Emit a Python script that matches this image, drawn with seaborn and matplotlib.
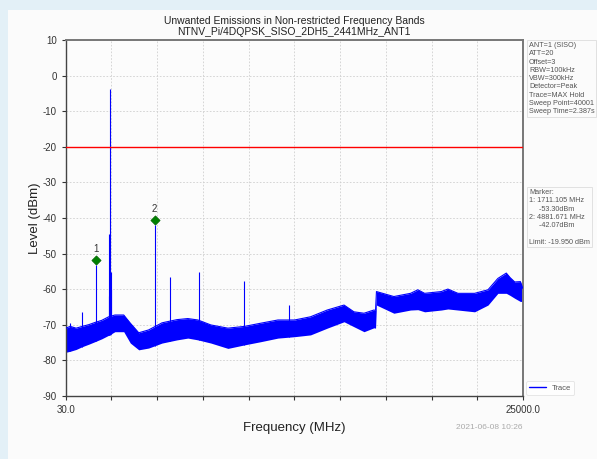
import numpy as np
import pandas as pd
import matplotlib
matplotlib.use("Agg")
import matplotlib.pyplot as plt
import matplotlib.transforms as mtransforms
from matplotlib.patches import Rectangle
import seaborn as sns

# noise floor envelope (MHz, dBm)
floor_freq = [30, 280, 600, 940, 1300, 1630, 2000, 2380, 2720, 3200, 3560, 4020,
              4560, 5290, 6110, 6700, 7250, 7960, 8890, 9800, 10690, 11620, 12530,
              13400, 14310, 15230, 15770, 16320, 16860, 16950, 17000, 17950, 18860,
              19260, 19630, 20540, 20900, 21450, 22360, 23090, 23630, 24090, 24300,
              24550, 24860, 25000]
floor_top = [-71.0, -70.5, -71.0, -70.5, -70.0, -69.4, -68.8, -67.8, -67.3, -67.3,
             -69.6, -72.3, -71.5, -69.5, -68.6, -68.3, -68.7, -70.1, -71.0, -70.5,
             -69.6, -68.7, -68.7, -67.8, -65.9, -64.5, -66.4, -66.8, -65.9, -66.0,
             -60.7, -62.1, -61.2, -60.2, -61.2, -60.7, -60.0, -61.2, -61.2, -60.2,
             -57.0, -55.5, -56.8, -58.0, -57.9, -59.9]
floor_bottom = [-77.8, -77.5, -77.0, -76.2, -75.5, -74.8, -74.0, -73.0, -72.0, -72.0,
                -75.2, -77.1, -76.6, -75.2, -74.3, -73.8, -74.3, -75.2, -76.7, -75.7,
                -74.8, -73.8, -73.4, -72.9, -71.0, -69.2, -70.6, -72.0, -70.9, -71.0,
                -64.5, -66.8, -65.9, -65.8, -66.4, -65.9, -65.6, -65.9, -66.4, -64.5,
                -61.2, -61.2, -61.8, -62.6, -63.5, -63.4]

# discrete spurs / carrier
spur_freq = [280, 940, 1711.105, 2380, 2400, 2441, 2480, 2500, 4881.671, 5740, 7310, 9750, 12210]
spur_level = [-69.5, -66.5, -53.30, -62.0, -44.5, -3.8, -55.1, -60.0, -42.07, -56.5, -55.1, -57.6, -64.5]

marker_freq = [1711.105, 4881.671]
marker_level = [-53.30, -42.07]
marker_names = ["1", "2"]

limit = -19.950
x_ticks = list(np.linspace(30, 25000, 11))
x_tick_labels = ["30.0"] + [""] * 9 + ["25000.0"]
y_ticks = list(range(-90, 11, 10))

settings_text = ("ANT=1 (SISO)\nATT=20\nOffset=3\nRBW=100kHz\nVBW=300kHz\n"
                 "Detector=Peak\nTrace=MAX Hold\nSweep Point=40001\nSweep Time=2.387s")
marker_text = ("Marker:\n1: 1711.105 MHz\n     -53.30dBm\n2: 4881.671 MHz\n     -42.07dBm\n\n"
               "Limit: -19.950 dBm")

sns.set_style("ticks")
plt.rcParams["font.family"] = ["Liberation Sans", "DejaVu Sans"]
plt.rcParams["axes.unicode_minus"] = False

fig = plt.figure(figsize=(5.97, 4.59), dpi=100)
fig.patch.set_facecolor("#e3f0f7")
fig.patches.append(Rectangle((8 / 597, 0), 1, 1 - 10 / 459, transform=fig.transFigure,
                             facecolor="#fbfbfb", edgecolor="none", zorder=-10))
ax = fig.add_axes([0.110, 0.138, 0.766, 0.774])
ax.set_facecolor("#fcfcfc")

df = pd.DataFrame({
    "freq": floor_freq + floor_freq,
    "level": floor_top + floor_bottom,
})
sns.lineplot(data=df, x="freq", y="level", estimator="max", errorbar=("pi", 100),
             color="blue", linewidth=0.8, err_kws={"alpha": 1, "linewidth": 0},
             label="Trace", ax=ax, zorder=3)

base = np.interp(spur_freq, floor_freq, floor_bottom)
ax.vlines(spur_freq, base, spur_level, color="blue", linewidth=0.8, zorder=3)

ax.axhline(limit, color="red", linewidth=1.0, zorder=4)

off = mtransforms.offset_copy(ax.transData, fig=fig, x=0, y=4, units="points")
sns.scatterplot(x=marker_freq, y=marker_level, marker="D", color="green", s=22,
                edgecolor="darkgreen", linewidth=0.5, ax=ax, zorder=5, transform=off)
for f, lv, name in zip(marker_freq, marker_level, marker_names):
    ax.annotate(name, (f, lv), xytext=(0, 8), textcoords="offset points",
                ha="center", va="bottom", fontsize=7, color="#333333")

ax.set_xlim(30, 25000)
ax.set_ylim(-90, 10)
ax.set_xticks(x_ticks)
ax.set_xticklabels(x_tick_labels)
ax.set_yticks(y_ticks)
ax.tick_params(axis="both", labelsize=7, colors="#333333", length=3, width=0.8)
ax.grid(True, linestyle=(0, (2, 2)), color="#cfcfcf", linewidth=0.6)
for name, s in ax.spines.items():
    s.set_color("#444444" if name in ("left", "bottom") else "#777777")
    s.set_linewidth(1.0 if name in ("left", "bottom") else 1.4)

ax.set_xlabel("Frequency (MHz)", fontsize=9.5, color="#222222", labelpad=5)
ax.set_ylabel("Level (dBm)", fontsize=9.5, color="#222222", labelpad=1)
ax.set_title("Unwanted Emissions in Non-restricted Frequency Bands\n"
             "NTNV_Pi/4DQPSK_SISO_2DH5_2441MHz_ANT1", fontsize=7.5, color="#222222",
             pad=4, linespacing=1.1)

box = dict(boxstyle="square,pad=0.25", facecolor="#fbfbfb", edgecolor="#dddddd", linewidth=0.6)
fig.text(0.886, 0.908, settings_text, fontsize=5.2, color="#555555", va="top", ha="left",
         linespacing=1.25, bbox=box)
fig.text(0.886, 0.588, marker_text, fontsize=5.2, color="#555555", va="top", ha="left",
         linespacing=1.25, bbox=box)
fig.text(0.875, 0.068, "2021-06-08 10:26", fontsize=6, color="#aaaaaa", ha="right", va="center")

leg = ax.legend(loc="lower left", bbox_to_anchor=(1.005, 0.0), fontsize=5.5, frameon=True,
                handlelength=2.2, borderaxespad=0.1)
leg.get_frame().set_edgecolor("#dddddd")
leg.get_frame().set_linewidth(0.6)
for h in leg.get_lines():
    h.set_color("blue")
    h.set_linewidth(1.0)
for t in leg.get_texts():
    t.set_color("#555555")

fig.savefig("out.png", dpi=100, facecolor=fig.get_facecolor())
